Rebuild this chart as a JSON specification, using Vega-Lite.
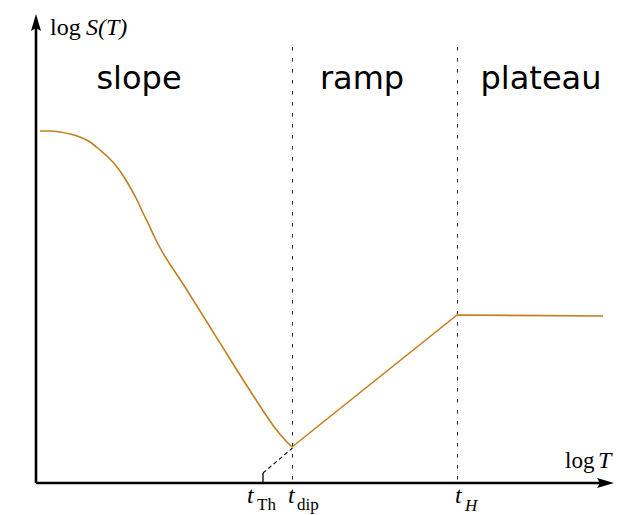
{
  "$schema": "https://vega.github.io/schema/vega-lite/v6.json",
  "width": 623,
  "height": 515,
  "padding": 0,
  "autosize": {"type": "fit", "contains": "padding"},
  "background": "white",
  "config": {"view": {"stroke": null}},
  "datasets": {
    "axes": [
      {"x": 36, "y": 483, "x2": 36, "y2": 26},
      {"x": 36, "y": 483, "x2": 604, "y2": 483}
    ],
    "arrowUp": [{"x": 36, "y": 24}],
    "arrowRight": [{"x": 604, "y": 483}],
    "guides": [
      {"x": 292.5, "y": 47, "x2": 292.5, "y2": 483},
      {"x": 457.5, "y": 47, "x2": 457.5, "y2": 483}
    ],
    "extension": [{"x": 263, "y": 473, "x2": 292.5, "y2": 448}],
    "tick": [{"x": 263, "y": 473, "x2": 263, "y2": 483}],
    "curve": [
      {"x": 40, "y": 131}, {"x": 50, "y": 131}, {"x": 60, "y": 132}, {"x": 70, "y": 134},
      {"x": 80, "y": 137}, {"x": 90, "y": 142}, {"x": 100, "y": 150}, {"x": 108, "y": 157},
      {"x": 117, "y": 167}, {"x": 124, "y": 177}, {"x": 130, "y": 187}, {"x": 137, "y": 200},
      {"x": 143, "y": 213}, {"x": 149, "y": 225}, {"x": 154, "y": 236}, {"x": 158, "y": 244},
      {"x": 185, "y": 287}, {"x": 210, "y": 327}, {"x": 235, "y": 367}, {"x": 260, "y": 406},
      {"x": 275, "y": 428}, {"x": 285, "y": 440}, {"x": 292, "y": 447}
    ],
    "ramp": [
      {"x": 292, "y": 447}, {"x": 457, "y": 315}, {"x": 603, "y": 316}
    ],
    "regions": [
      {"x": 139, "y": 89, "label": "slope"},
      {"x": 362, "y": 89, "label": "ramp"},
      {"x": 541, "y": 89, "label": "plateau"}
    ],
    "upright": [
      {"x": 50, "y": 35, "label": "log"}
    ],
    "italic": [
      {"x": 86, "y": 35, "label": "S(T)"}
    ],
    "uprightB": [
      {"x": 565, "y": 468, "label": "log"}
    ],
    "italicB": [
      {"x": 598, "y": 468, "label": "T"},
      {"x": 247, "y": 503, "label": "t"},
      {"x": 288, "y": 503, "label": "t"},
      {"x": 455, "y": 503, "label": "t"}
    ],
    "subUp": [
      {"x": 257, "y": 510, "label": "Th"},
      {"x": 297, "y": 510, "label": "dip"}
    ],
    "subIt": [
      {"x": 465, "y": 511, "label": "H"}
    ]
  },
  "encoding": {
    "x": {"field": "x", "type": "quantitative", "scale": {"domain": [0, 623], "nice": false, "zero": false}, "axis": null},
    "y": {"field": "y", "type": "quantitative", "scale": {"domain": [515, 0], "nice": false, "zero": false}, "axis": null}
  },
  "layer": [
    {
      "data": {"name": "guides"},
      "mark": {"type": "rule", "color": "#222222", "strokeWidth": 1, "strokeDash": [3.5, 7.5]},
      "encoding": {"x2": {"field": "x2"}, "y2": {"field": "y2"}}
    },
    {
      "data": {"name": "extension"},
      "mark": {"type": "rule", "color": "#111111", "strokeWidth": 1.2, "strokeDash": [4, 3]},
      "encoding": {"x2": {"field": "x2"}, "y2": {"field": "y2"}}
    },
    {
      "data": {"name": "tick"},
      "mark": {"type": "rule", "color": "#000000", "strokeWidth": 1.3},
      "encoding": {"x2": {"field": "x2"}, "y2": {"field": "y2"}}
    },
    {
      "data": {"name": "curve"},
      "mark": {"type": "line", "color": "#c17f1f", "strokeWidth": 1.6, "interpolate": "monotone"},
      "encoding": {"order": {"field": "x", "type": "quantitative"}}
    },
    {
      "data": {"name": "ramp"},
      "mark": {"type": "line", "color": "#c17f1f", "strokeWidth": 1.6},
      "encoding": {"order": {"field": "x", "type": "quantitative"}}
    },
    {
      "data": {"name": "axes"},
      "mark": {"type": "rule", "color": "#000000", "strokeWidth": 2.6},
      "encoding": {"x2": {"field": "x2"}, "y2": {"field": "y2"}}
    },
    {
      "data": {"name": "arrowUp"},
      "mark": {"type": "point", "filled": true, "color": "#000000", "opacity": 1, "size": 400, "shape": "M0,-1L0.5,0.7L0,0.4L-0.5,0.7Z"}
    },
    {
      "data": {"name": "arrowRight"},
      "mark": {"type": "point", "filled": true, "color": "#000000", "opacity": 1, "size": 400, "shape": "M1,0L-0.7,0.5L-0.4,0L-0.7,-0.5Z"}
    },
    {
      "data": {"name": "regions"},
      "mark": {"type": "text", "font": "DejaVu Sans", "fontSize": 32, "align": "center", "baseline": "alphabetic", "color": "#000000"},
      "encoding": {"text": {"field": "label"}}
    },
    {
      "data": {"name": "upright"},
      "mark": {"type": "text", "font": "Liberation Serif", "fontSize": 24, "align": "left", "baseline": "alphabetic", "color": "#000000"},
      "encoding": {"text": {"field": "label"}}
    },
    {
      "data": {"name": "italic"},
      "mark": {"type": "text", "font": "Liberation Serif", "fontStyle": "italic", "fontSize": 24, "align": "left", "baseline": "alphabetic", "color": "#000000"},
      "encoding": {"text": {"field": "label"}}
    },
    {
      "data": {"name": "uprightB"},
      "mark": {"type": "text", "font": "Liberation Serif", "fontSize": 23, "align": "left", "baseline": "alphabetic", "color": "#000000"},
      "encoding": {"text": {"field": "label"}}
    },
    {
      "data": {"name": "italicB"},
      "mark": {"type": "text", "font": "Liberation Serif", "fontStyle": "italic", "fontSize": 24, "align": "left", "baseline": "alphabetic", "color": "#000000"},
      "encoding": {"text": {"field": "label"}}
    },
    {
      "data": {"name": "subUp"},
      "mark": {"type": "text", "font": "Liberation Serif", "fontSize": 17, "align": "left", "baseline": "alphabetic", "color": "#000000"},
      "encoding": {"text": {"field": "label"}}
    },
    {
      "data": {"name": "subIt"},
      "mark": {"type": "text", "font": "Liberation Serif", "fontStyle": "italic", "fontSize": 17, "align": "left", "baseline": "alphabetic", "color": "#000000"},
      "encoding": {"text": {"field": "label"}}
    }
  ]
}
